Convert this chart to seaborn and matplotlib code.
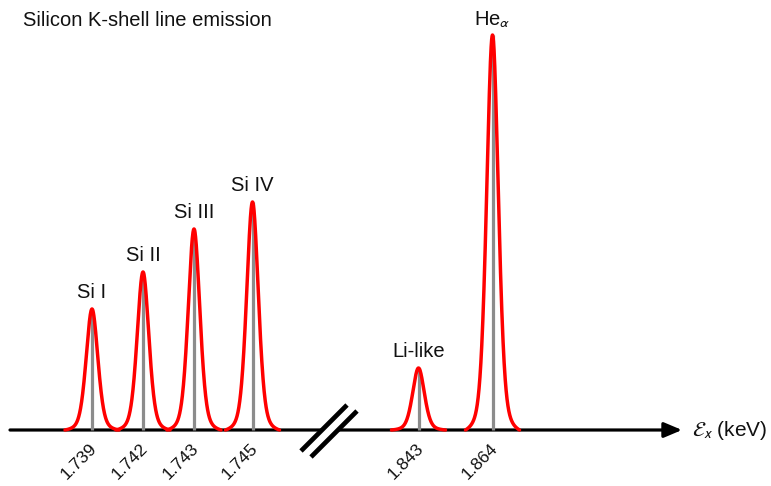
import numpy as np
import pandas as pd
import matplotlib
matplotlib.use("Agg")
import matplotlib.pyplot as plt
from matplotlib.transforms import ScaledTranslation
import seaborn as sns

# ---- data (schematic positions on the broken energy axis) ----
line_names = ["Si I", "Si II", "Si III", "Si IV", "Li-like", r"He$_{\alpha}$"]
energies = ["1.739", "1.742", "1.743", "1.745", "1.843", "1.864"]
positions = [0.92, 1.43, 1.94, 2.525, 4.185, 4.925]
intensities = [1.21, 1.58, 2.01, 2.28, 0.62, 3.95]
fwhm = 0.14
half_span = 0.27

sns.set_theme(style="white")
plt.rcParams["font.family"] = ["Liberation Sans", "DejaVu Sans"]
plt.rcParams["mathtext.fontset"] = "stixsans"

fig = plt.figure(figsize=(7.71, 4.86), dpi=100)
ax = fig.add_axes([0, 0, 1, 1])
ax.set_xlim(0, 7.71)
ax.set_ylim(-0.56, 4.30)
for s in ax.spines.values():
    s.set_visible(False)
ax.spines["bottom"].set_position(("data", 0))

# line profiles (pseudo-Voigt shape around each line centre)
rows = []
for name, c, h in zip(line_names, positions, intensities):
    x = np.linspace(c - half_span, c + half_span, 300)
    d = x - c
    g = np.exp(-4 * np.log(2) * (d / fwhm) ** 2)
    l = 1 / (1 + (2 * d / fwhm) ** 2)
    p = 0.65 * g + 0.35 * l
    edge = p[0]
    p = (p - edge) / (1 - edge)
    for xi, yi in zip(x, p * h):
        rows.append((name, xi, yi))
df = pd.DataFrame(rows, columns=["line", "x", "y"])

# baseline axis arrow
ax.annotate("", xy=(6.82, 0), xytext=(0.10, 0),
            arrowprops=dict(arrowstyle="-|>,head_length=0.9,head_width=0.38",
                            lw=2.3, color="black", shrinkA=0, shrinkB=0),
            zorder=1)

ax.vlines(positions, 0, intensities, color="#8c8c8c", lw=2.3, zorder=2)
sns.lineplot(data=df, x="x", y="y", units="line", estimator=None, sort=False,
             color="#ff0000", lw=2.5, ax=ax, zorder=3, legend=False)

# axis break marks
ax.fill([3.01, 3.47, 3.57, 3.11], [-0.21, 0.25, 0.19, -0.27], color="white", zorder=4, lw=0)
ax.plot([3.01, 3.47], [-0.21, 0.25], color="black", lw=3.4, solid_capstyle="butt", zorder=5)
ax.plot([3.11, 3.57], [-0.27, 0.19], color="black", lw=3.4, solid_capstyle="butt", zorder=5)

# peak labels
for name, c, h in zip(line_names, positions, intensities):
    ax.text(c, h + 0.11, name, ha="center", va="baseline", fontsize=14.5, color="#111111")

# tick labels (energies)
ax.set_xticks(positions)
ax.set_xticklabels(energies, rotation=45, ha="right", va="top", fontsize=12.5, color="#111111")
ax.set_yticks([])
ax.tick_params(axis="x", length=0, pad=8)
for lab in ax.get_xticklabels():
    lab.set_transform(lab.get_transform() + ScaledTranslation(0.08, 0, fig.dpi_scale_trans))
ax.set_xlabel("")
ax.set_ylabel("")

ax.text(6.92, 0, r"$\mathcal{E}_x$ (keV)", ha="left", va="center", fontsize=15, color="#111111")
ax.text(0.23, 4.10, "Silicon K-shell line emission", ha="left", va="center", fontsize=14.5, color="#111111")

fig.savefig("out.png", dpi=100, facecolor="white")
